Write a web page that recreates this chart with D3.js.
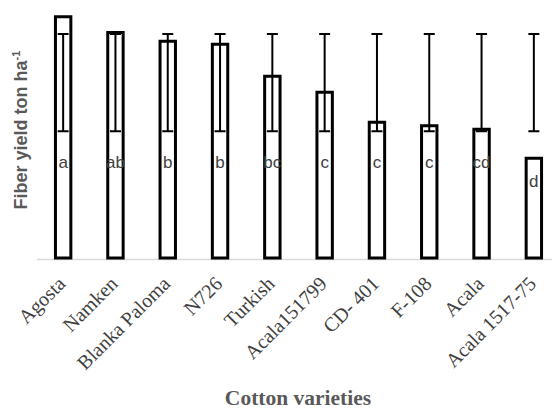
<!DOCTYPE html>
<html>
<head>
<meta charset="utf-8">
<script src="https://cdn.jsdelivr.net/npm/d3@7"></script>
<style>
  html, body { margin: 0; padding: 0; background: #fff; }
  svg { display: block; }
</style>
</head>
<body>
<svg id="chart" width="552" height="409"></svg>
<script>
const varieties = ["Agosta", "Namken", "Blanka Paloma", "N726", "Turkish", "Acala151799", "CD- 401", "F-108", "Acala", "Acala 1517-75"];
const fiberYield = [1.93, 1.804, 1.734, 1.71, 1.454, 1.326, 1.086, 1.058, 1.03, 0.798];
const errLow = [1.014, 1.014, 1.014, 1.014, 1.014, 1.014, 1.014, 1.014, 1.014, 1.014];
const errHigh = [1.792, 1.792, 1.792, 1.792, 1.792, 1.792, 1.792, 1.792, 1.792, 1.792];
const letters = ["a", "ab", "b", "b", "bc", "c", "c", "c", "cd", "d"];

const svg = d3.select("#chart");
const data = varieties.map((v, i) => ({ name: v, value: fiberYield[i], lo: errLow[i], hi: errHigh[i], letter: letters[i] }));

const x = d3.scaleBand().domain(varieties).range([37, 560]);
const y = d3.scaleLinear().domain([0, 2]).range([258, 8]);
const cx = d => x(d.name) + x.bandwidth() / 2;
const barW = 15.4;

// axis line
svg.append("line")
  .attr("x1", 37).attr("x2", 552)
  .attr("y1", 259.5).attr("y2", 259.5)
  .attr("stroke", "#d9d9d9").attr("stroke-width", 1.5);

// bars
svg.selectAll("rect.bar").data(data).join("rect")
  .attr("class", "bar")
  .attr("x", d => cx(d) - barW / 2)
  .attr("width", barW)
  .attr("y", d => y(d.value))
  .attr("height", d => y(0) - y(d.value))
  .attr("fill", "#fff")
  .attr("stroke", "#000")
  .attr("stroke-width", 3);

// error bars
const eb = svg.append("g").attr("stroke", "#000").attr("stroke-width", 2);
eb.selectAll("line.v").data(data).join("line")
  .attr("x1", cx).attr("x2", cx)
  .attr("y1", d => y(d.lo)).attr("y2", d => y(d.hi));
eb.selectAll("line.t").data(data).join("line")
  .attr("x1", d => cx(d) - 5.5).attr("x2", d => cx(d) + 5.5)
  .attr("y1", d => y(d.hi)).attr("y2", d => y(d.hi));
eb.selectAll("line.b").data(data).join("line")
  .attr("x1", d => cx(d) - 5.5).attr("x2", d => cx(d) + 5.5)
  .attr("y1", d => y(d.lo)).attr("y2", d => y(d.lo));

// letters
svg.selectAll("text.letter").data(data).join("text")
  .attr("class", "letter")
  .attr("x", cx)
  .attr("y", d => Math.max(y(d.value) + 24, 163) + 4.5)
  .attr("text-anchor", "middle")
  .attr("font-family", "'Liberation Sans', Arial, sans-serif")
  .attr("font-size", 17)
  .attr("fill", "#404040")
  .text(d => d.letter);

// x tick labels
svg.selectAll("text.tick").data(data).join("text")
  .attr("class", "tick")
  .attr("transform", d => `translate(${cx(d) + 3.5},${285}) rotate(-45)`)
  .attr("text-anchor", "end")
  .attr("font-family", "'Liberation Serif', 'Times New Roman', serif")
  .attr("font-size", 20)
  .attr("fill", "#404040")
  .text(d => d.name);

// x title
svg.append("text")
  .attr("x", 298).attr("y", 405)
  .attr("text-anchor", "middle")
  .attr("font-family", "'Liberation Serif', 'Times New Roman', serif")
  .attr("font-weight", "bold")
  .attr("font-size", 21.5)
  .attr("fill", "#595959")
  .text("Cotton varieties");

// y title
const yt = svg.append("text")
  .attr("transform", "translate(27,130) rotate(-90)")
  .attr("text-anchor", "middle")
  .attr("font-family", "'Liberation Sans', Arial, sans-serif")
  .attr("font-weight", "bold")
  .attr("font-size", 18)
  .attr("fill", "#595959");
yt.append("tspan").text("Fiber yield ton ha");
yt.append("tspan").attr("dy", -7).attr("font-size", 11).text("-1");
</script>
</body>
</html>
